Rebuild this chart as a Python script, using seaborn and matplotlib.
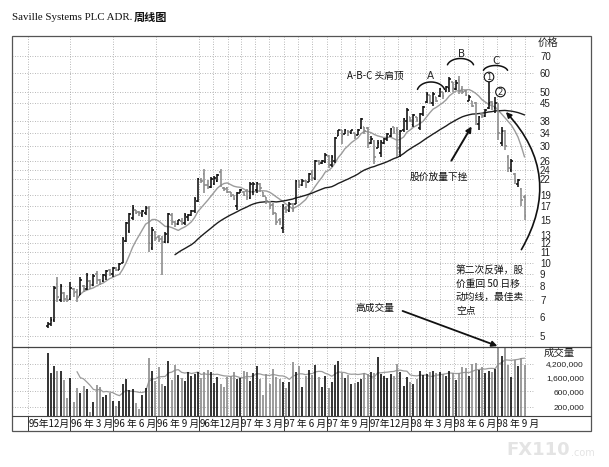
import numpy as np
import pandas as pd
import matplotlib
matplotlib.use("Agg")
import matplotlib.pyplot as plt
import matplotlib.dates as mdates
from matplotlib.patches import Circle, FancyArrowPatch, Rectangle
from matplotlib.ticker import NullLocator
import seaborn as sns

sns.set_theme(style="white")
plt.rcParams["font.family"] = ["Noto Sans CJK SC", "DejaVu Sans"]

# ---------------- data (weekly bars) ----------------
first_week = "1996-01-12"
opens = [5.5, 5.6, 5.8, 8.2, 7.0, 7.5, 7.2, 7.1, 7.8, 7.6,
         7.4, 8.0, 7.8, 8.4, 8.1, 9.0, 8.5, 8.4, 8.8, 9.3,
         9.0, 9.5, 9.3, 10.0, 12.3, 13.5, 15.2, 16.4, 16.1, 15.6,
         15.9, 16.8, 11.5, 13.3, 12.7, 12.5, 12.1, 12.2, 15.7, 14.6,
         14.4, 14.8, 14.5, 15.4, 15.6, 16.2, 17.9, 21.8, 23.0, 20.8,
         20.5, 21.0, 21.5, 23.5, 20.3, 20.2, 19.4, 18.9, 17.0, 19.3,
         19.5, 19.6, 18.4, 19.5, 19.8, 21.0, 19.4, 18.6, 17.7, 17.2,
         15.9, 14.9, 13.8, 16.8, 16.3, 17.4, 17.4, 21.5, 20.8, 21.6,
         21.4, 23.5, 22.0, 26.0, 25.5, 25.8, 27.3, 25.0, 26.0, 33.0,
         34.8, 33.5, 34.5, 34.0, 34.0, 33.2, 35.5, 36.0, 35.5, 31.0,
         31.5, 29.5, 28.0, 31.0, 32.0, 33.0, 35.8, 35.0, 28.5, 34.8,
         38.0, 39.5, 36.5, 39.5, 35.5, 40.5, 45.5, 48.5, 45.0, 47.5,
         48.0, 50.0, 50.5, 52.0, 55.0, 51.5, 56.0, 51.5, 50.5, 46.0,
         46.0, 45.0, 37.0, 40.5, 40.0, 43.0, 45.5, 43.0, 45.0, 31.0,
         34.5, 27.0, 24.0, 23.0, 21.0, 20.0, 18.5]
highs = [5.7, 6.0, 8.0, 8.7, 8.2, 7.6, 7.4, 8.3, 7.9, 7.8,
         8.7, 8.1, 9.1, 8.5, 9.0, 9.2, 8.6, 9.0, 9.3, 9.4,
         9.6, 9.6, 10.0, 12.7, 14.7, 16.0, 17.2, 16.5, 16.3, 16.4,
         17.0, 17.0, 14.0, 13.5, 13.0, 12.8, 13.3, 16.0, 16.0, 14.8,
         15.0, 15.2, 16.0, 15.8, 16.5, 18.5, 22.2, 22.3, 24.1, 21.8,
         22.4, 22.6, 23.0, 24.2, 20.5, 20.4, 19.5, 19.0, 19.5, 20.0,
         19.6, 20.0, 21.3, 21.3, 21.3, 21.2, 19.5, 18.6, 17.8, 17.5,
         16.0, 15.2, 17.3, 17.0, 17.7, 17.6, 21.8, 21.8, 22.0, 21.8,
         23.3, 24.0, 26.3, 26.3, 26.3, 28.0, 27.5, 27.5, 32.7, 35.0,
         35.0, 35.2, 34.8, 35.0, 34.0, 35.3, 39.0, 36.0, 35.9, 33.0,
         31.7, 31.7, 31.7, 32.5, 34.0, 35.6, 36.0, 35.8, 35.0, 39.0,
         43.0, 39.5, 40.7, 39.5, 41.0, 44.0, 50.0, 48.5, 50.0, 47.5,
         52.0, 50.0, 53.0, 57.5, 55.0, 56.0, 58.0, 53.0, 51.0, 48.5,
         46.0, 45.4, 40.0, 41.0, 42.5, 56.5, 46.0, 47.5, 45.0, 35.8,
         35.0, 27.5, 26.5, 23.3, 22.0, 20.3, 19.0]
lows = [5.4, 5.5, 5.7, 6.9, 6.9, 6.9, 6.9, 7.0, 7.2, 6.9,
        7.4, 7.6, 7.7, 7.8, 8.0, 8.2, 8.1, 8.3, 8.5, 8.8,
        8.7, 9.2, 9.3, 10.0, 12.1, 13.2, 15.0, 15.8, 15.5, 15.4,
        15.6, 11.0, 11.3, 12.3, 12.2, 8.9, 12.0, 12.0, 14.2, 14.0,
        14.2, 14.3, 14.3, 14.8, 15.5, 16.0, 17.7, 21.2, 19.2, 20.0,
        20.3, 20.8, 21.3, 20.4, 19.7, 19.2, 18.5, 18.0, 16.4, 19.2,
        18.8, 18.0, 18.2, 19.0, 19.2, 19.5, 18.6, 17.3, 16.6, 15.7,
        14.2, 14.3, 13.2, 16.0, 16.1, 16.1, 17.3, 20.3, 20.6, 20.2,
        21.3, 21.5, 21.8, 25.0, 25.3, 25.6, 24.5, 24.6, 25.6, 33.0,
        30.5, 33.5, 33.0, 33.5, 32.0, 33.2, 35.4, 33.5, 29.6, 30.5,
        25.3, 29.5, 27.0, 30.5, 31.5, 32.6, 33.5, 27.0, 27.0, 34.4,
        35.0, 37.5, 35.8, 37.8, 35.0, 40.0, 45.0, 44.5, 44.0, 45.5,
        47.8, 47.0, 50.0, 50.0, 50.0, 51.0, 49.0, 49.0, 48.0, 46.0,
        43.5, 36.6, 35.0, 39.0, 39.5, 42.5, 42.0, 41.0, 31.7, 30.0,
        29.0, 23.6, 23.5, 21.0, 20.5, 17.0, 15.0]
closes = [5.6, 5.8, 7.9, 7.2, 8.0, 7.1, 7.0, 7.9, 7.5, 7.2,
          8.5, 7.8, 8.9, 8.1, 8.8, 8.5, 8.3, 8.9, 9.2, 9.0,
          9.5, 9.3, 9.9, 12.5, 14.5, 15.8, 16.8, 16.0, 15.9, 16.2,
          16.8, 12.0, 13.6, 12.6, 12.4, 12.1, 13.1, 15.8, 14.6, 14.4,
          14.9, 14.5, 15.6, 15.6, 16.3, 18.2, 22.0, 21.6, 20.8, 20.5,
          22.0, 22.2, 22.8, 20.8, 20.0, 19.4, 18.8, 18.3, 19.3, 19.8,
          19.0, 18.5, 20.9, 21.0, 21.1, 20.2, 18.8, 17.8, 17.0, 16.0,
          14.6, 14.7, 17.0, 16.4, 17.4, 16.5, 21.5, 20.7, 21.6, 20.8,
          23.0, 22.2, 26.0, 25.4, 26.0, 27.7, 25.0, 27.2, 32.5, 34.8,
          33.0, 35.0, 34.2, 34.8, 32.8, 35.0, 38.6, 34.5, 31.0, 32.0,
          27.0, 30.8, 31.3, 32.2, 33.7, 35.2, 34.2, 29.5, 34.6, 38.6,
          42.2, 38.2, 40.2, 38.3, 40.6, 43.6, 49.2, 45.5, 49.0, 46.0,
          51.5, 48.0, 52.5, 56.5, 52.0, 54.5, 50.5, 50.0, 48.5, 47.8,
          44.0, 38.0, 39.5, 39.8, 42.0, 45.0, 44.5, 45.0, 34.0, 34.5,
          30.0, 24.5, 26.0, 21.5, 21.8, 18.0, 15.5]
volumes_mn = [9.0, 2.2, 3.6, 2.6, 2.6, 1.35, 0.37, 1.6, 0.29, 0.78,
              0.55, 0.88, 0.70, 0.135, 0.29, 0.95, 0.84, 0.39, 0.47, 0.53,
              0.31, 0.215, 0.31, 1.05, 1.4, 0.66, 0.70, 0.26, 0.17, 0.47,
              0.75, 6.5, 2.5, 1.3, 3.5, 1.02, 0.88, 5.3, 1.35, 3.9,
              1.9, 1.6, 1.3, 2.3, 1.8, 2.0, 2.3, 1.5, 2.4, 2.8,
              2.4, 1.1, 1.7, 1.05, 0.84, 1.7, 1.8, 2.4, 1.4, 1.5,
              2.6, 2.4, 1.3, 2.2, 3.7, 1.4, 0.47, 2.0, 1.05, 2.9,
              1.7, 1.4, 1.2, 0.76, 1.2, 4.7, 2.4, 3.7, 0.84, 1.8,
              2.8, 1.9, 3.9, 1.7, 0.84, 1.8, 0.76, 1.2, 3.9, 5.1,
              2.17, 1.5, 1.9, 1.05, 1.1, 1.2, 1.4, 2.17, 2.0, 2.3,
              2.17, 7.0, 2.0, 1.8, 1.5, 2.0, 1.8, 4.2, 2.3, 0.88,
              1.7, 1.2, 1.02, 1.4, 2.6, 1.9, 2.0, 2.3, 2.6, 2.17,
              2.3, 2.0, 1.8, 2.6, 2.17, 1.35, 2.17, 3.5, 3.1, 1.8,
              4.3, 4.6, 2.8, 3.5, 2.17, 2.6, 2.4, 2.9, 14.0, 7.3,
              14.0, 3.9, 1.7, 5.6, 3.7, 6.3, 3.9]

price_ticks = [70, 60, 50, 45, 38, 34, 30, 26, 24, 22, 19, 17, 15, 13, 12, 11, 10, 9, 8, 7, 6, 5]
volume_ticks = [4200000, 1600000, 600000, 200000]
volume_tick_labels = ["4,200,000", "1,600,000", "600,000", "200,000"]
quarter_labels = ["95年12月", "96 年 3 月", "96 年 6 月", "96 年 9 月", "96年12月",
                  "97 年 3 月", "97 年 6 月", "97 年 9 月", "97年12月",
                  "98 年 3 月", "98 年 6 月", "98 年 9 月"]
short_ma_weeks = 10
long_ma_weeks = 40

# ---------------- derived ----------------
dates = pd.date_range(first_week, periods=len(closes), freq="7D")
x = mdates.date2num(dates)
volumes = np.array(volumes_mn) * 1e6
opens_a, closes_a = np.array(opens), np.array(closes)
up = closes_a >= opens_a
BLACK, GRAY = "#101010", "#8a8a8a"
colors = np.where(up, BLACK, GRAY)

quarters = pd.date_range("1995-12-01", "1998-12-01", freq="3MS")
qx = mdates.date2num(quarters)
grid_dates = list(quarters[:4]) + list(pd.date_range("1996-12-01", "1998-11-01", freq="MS"))
gx = mdates.date2num(pd.DatetimeIndex(grid_dates))

# pixel layout helpers
W, H = 609, 467
base = mdates.date2num(pd.Timestamp("1995-12-01"))
dpp = (mdates.date2num(pd.Timestamp("1998-09-01")) - base) / (497 - 28)
xlim = (base - (28 - 12) * dpp, base + (535 - 28) * dpp)
tick = 1.6 * dpp

def fa(l, t, r, b):
    return [l / W, (H - b) / H, (r - l) / W, (b - t) / H]

fig = plt.figure(figsize=(W / 100, H / 100), dpi=100)
fig.patch.set_facecolor("white")
ax_p = fig.add_axes(fa(12, 36, 535, 347))
ax_v = fig.add_axes(fa(12, 347, 535, 416))
ax_x = fig.add_axes(fa(12, 416, 535, 431))

grid_kw = dict(color="#a0a0a0", lw=0.6, ls=(0, (1, 2)))

# ---------- price panel ----------
ax_p.set_yscale("log")
ax_p.set_xlim(xlim)
ax_p.set_ylim(4.51, 84.8)
ax_p.vlines(x, lows, highs, colors=colors, lw=1.15, zorder=3)
ax_p.hlines(opens, x - tick, x, colors=colors, lw=1.15, zorder=3)
ax_p.hlines(closes, x, x + tick, colors=colors, lw=1.15, zorder=3)
ma = pd.DataFrame({"x": x,
                   "short": pd.Series(closes).rolling(short_ma_weeks).mean(),
                   "long": pd.Series(closes).rolling(long_ma_weeks).mean()})
sns.lineplot(data=ma.dropna(subset=["short"]), x="x", y="short", ax=ax_p, color="#9c9c9c", lw=1.0, zorder=2)
sns.lineplot(data=ma.dropna(subset=["long"]), x="x", y="long", ax=ax_p, color="#1e1e1e", lw=1.0, zorder=2)
ax_p.yaxis.set_minor_locator(NullLocator())
ax_p.yaxis.tick_right()
ax_p.set_yticks(price_ticks)
ax_p.set_yticklabels([str(v) for v in price_ticks])
ax_p.tick_params(axis="y", length=0, pad=3.6, labelsize=7, colors="#222222")
for lab in ax_p.get_yticklabels():
    lab.set_fontfamily("Liberation Sans")
ax_p.set_xticks(gx)
ax_p.tick_params(axis="x", length=0, labelbottom=False)
ax_p.grid(True, **grid_kw)
ax_p.set_xlabel("")
ax_p.set_ylabel("")

# ---------- volume panel ----------
ax_v.set_yscale("log")
ax_v.set_xlim(xlim)
ax_v.set_ylim(1.05e5, 1.4e7)
ax_v.vlines(x, ax_v.get_ylim()[0], volumes, colors=colors, lw=1.2, zorder=3)
vma = pd.DataFrame({"x": x, "v": pd.Series(volumes).rolling(short_ma_weeks).mean()}).dropna()
sns.lineplot(data=vma, x="x", y="v", ax=ax_v, color="#9c9c9c", lw=0.9, zorder=2)
ax_v.yaxis.set_minor_locator(NullLocator())
ax_v.yaxis.tick_right()
ax_v.set_yticks(volume_ticks)
ax_v.set_yticklabels(volume_tick_labels)
ax_v.tick_params(axis="y", length=0, pad=35.3, labelsize=6, colors="#222222")
for lab in ax_v.get_yticklabels():
    lab.set_fontfamily("Liberation Sans")
    lab.set_horizontalalignment("right")
ax_v.set_xticks(gx)
ax_v.tick_params(axis="x", length=0, labelbottom=False)
ax_v.grid(True, **grid_kw)
ax_v.set_xlabel("")
ax_v.set_ylabel("")

# ---------- date label strip ----------
ax_x.set_xlim(xlim)
ax_x.set_ylim(0, 1)
ax_x.vlines(qx[:-1], 0, 1, colors="#333333", lw=0.7)
for i, lab in enumerate(quarter_labels):
    ax_x.text((qx[i] + qx[i + 1]) / 2, 0.45, lab, ha="center", va="center",
              fontsize=7, color="#111111", clip_on=False)
ax_x.set_xticks([])
ax_x.set_yticks([])

for a in (ax_p, ax_v, ax_x):
    for s in a.spines.values():
        s.set_visible(False)
    a.set_facecolor("none")

# ---------- overlay (frame + annotations) in pixel space ----------
ov = fig.add_axes([0, 0, 1, 1], zorder=10)
ov.set_xlim(0, W)
ov.set_ylim(H, 0)
ov.axis("off")
ov.patch.set_alpha(0)
ov.add_patch(Rectangle((12, 36), 591 - 12, 431 - 36, fill=False, ec="#555555", lw=0.9))
ov.plot([12, 591], [347, 347], color="#444444", lw=0.9)
ov.plot([12, 591], [416, 416], color="#444444", lw=0.8)

renderer = fig.canvas.get_renderer()

def px_right(t):
    bb = t.get_window_extent(renderer=renderer)
    return bb.x1

t1 = ov.text(12, 17, "Saville Systems PLC ADR.", fontsize=7.8, family="Liberation Serif",
             ha="left", va="center", color="#111111")
ov.text(px_right(t1) + 1, 17, "周线图", fontsize=8, fontweight="bold", ha="left", va="center", color="#111111")

ov.text(538, 43, "价格", fontsize=7.5, ha="left", va="center", color="#222222")
ov.text(559, 353, "成交量", fontsize=7.5, ha="center", va="center", color="#222222")

def arc(cx, cy, w, h):
    t = np.radians(np.linspace(195, 345, 40))
    ov.plot(cx + w / 2 * np.cos(t), cy + h / 2 * np.sin(t), color="#111111", lw=1.1)

arc(431, 92, 28, 20)
arc(460.5, 67, 27, 17)
arc(495.5, 72, 25, 13)
ov.text(430, 76, "A", fontsize=7.5, ha="center", va="center", family="DejaVu Sans")
ov.text(462, 54, "B", fontsize=7.5, ha="center", va="center", family="DejaVu Sans")
ov.text(496, 61, "C", fontsize=7.5, ha="center", va="center", family="DejaVu Sans")
for (cx, cy, n) in [(489, 77, "1"), (500.5, 92, "2")]:
    ov.add_patch(Circle((cx, cy), 4.8, fc="white", ec="#111111", lw=0.8, zorder=11))
    ov.text(cx, cy + 0.3, n, fontsize=6, ha="center", va="center", family="DejaVu Sans", zorder=12)

ov.text(347, 76, "A-B-C 头肩顶", fontsize=7, ha="left", va="center", color="#111111")
ov.text(410, 177, "股价放量下挫", fontsize=7, ha="left", va="center", color="#111111")
ov.annotate("", xy=(473, 124), xytext=(450, 163),
            arrowprops=dict(arrowstyle="-|>", color="#111111", lw=1.4, mutation_scale=8))
ov.text(456, 265, "第二次反弹，股\n价重回 50 日移\n动均线，最佳卖\n空点", fontsize=7,
        ha="left", va="top", linespacing=1.45, color="#111111")
ov.add_patch(FancyArrowPatch((520, 252), (504, 110), connectionstyle="arc3,rad=0.38",
                             arrowstyle="-|>", mutation_scale=8, color="#111111", lw=1.2))
ov.text(355, 308, "高成交量", fontsize=7, ha="left", va="center", color="#111111")
ov.annotate("", xy=(500, 347), xytext=(400, 310),
            arrowprops=dict(arrowstyle="-|>", color="#111111", lw=1.3, mutation_scale=8))

t2 = ov.text(506, 450, "FX110", fontsize=13, fontweight="bold", family="DejaVu Sans",
             ha="left", va="center", color="#e4e4e4")
ov.text(px_right(t2) + 1, 453, ".com", fontsize=7, family="DejaVu Sans", ha="left",
        va="center", color="#e4e4e4")

fig.savefig("out.png", dpi=100, facecolor="white")
